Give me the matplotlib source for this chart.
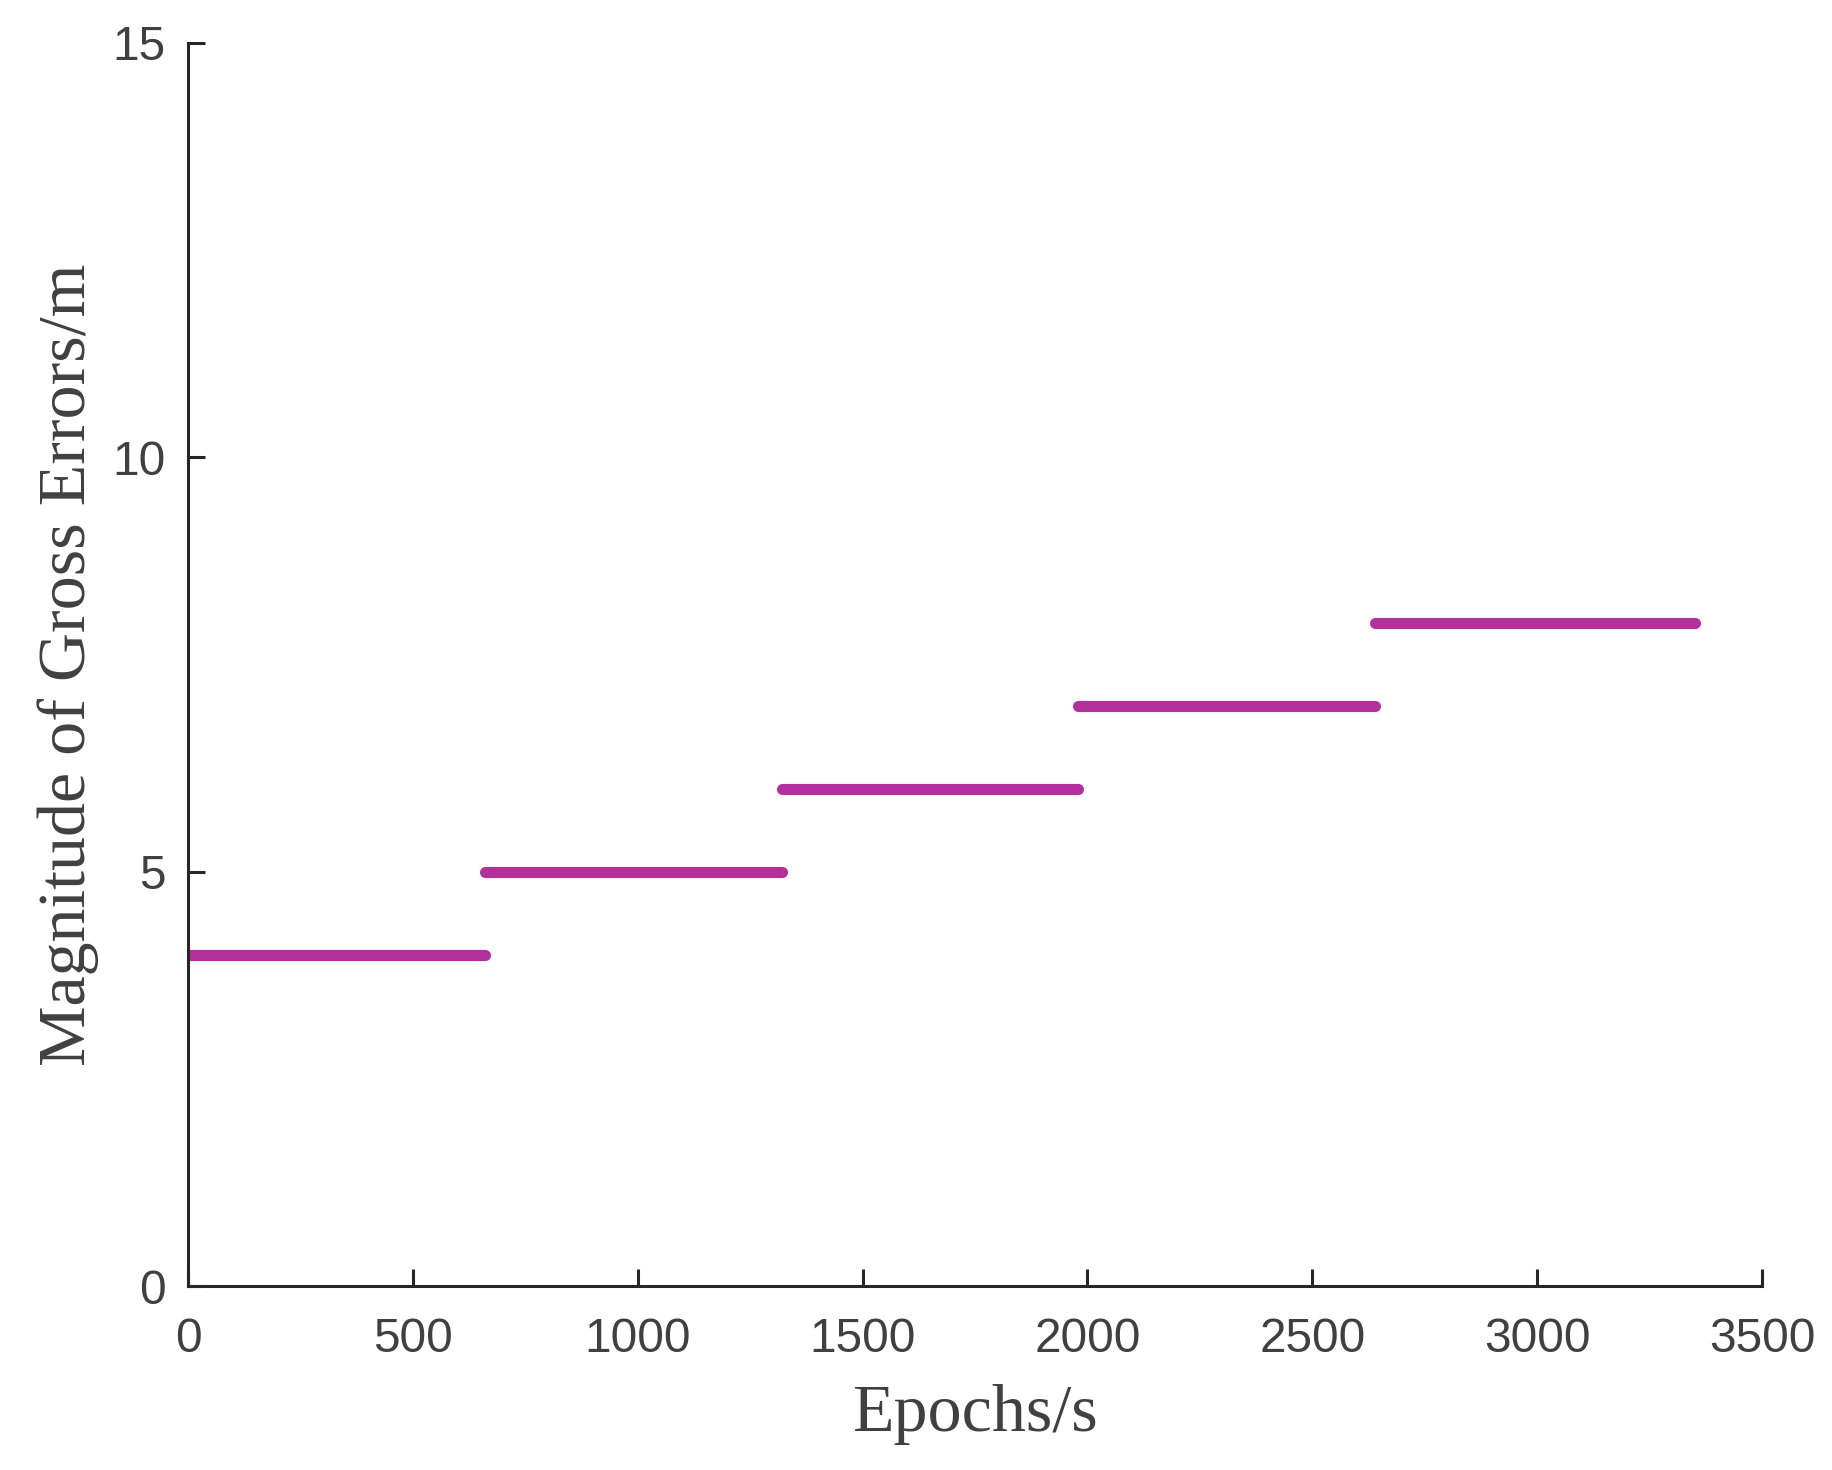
import numpy as np
import matplotlib
matplotlib.use("Agg")
import matplotlib.pyplot as plt

# Data: gross error magnitude per epoch segment
seg_start = [0, 660, 1320, 1980, 2640]
seg_end = [660, 1320, 1980, 2640, 3350]
seg_value = [4, 5, 6, 7, 8]

x_ticks = [0, 500, 1000, 1500, 2000, 2500, 3000, 3500]
y_ticks = [0, 5, 10, 15]

DPI = 200
fig = plt.figure(figsize=(1833 / DPI, 1470 / DPI), dpi=DPI)
ax = fig.add_axes([188 / 1833, 1 - 1286 / 1470, (1762 - 188) / 1833, (1286 - 43) / 1470])

color = "#B22F9C"
for s, e, v in zip(seg_start, seg_end, seg_value):
    ax.plot([s, e], [v, v], color=color, lw=4.0, solid_capstyle="round")

ax.set_xlim(0, 3500)
ax.set_ylim(0, 15)
ax.set_xticks(x_ticks)
ax.set_yticks(y_ticks)

for side in ["top", "right"]:
    ax.spines[side].set_visible(False)
for side in ["left", "bottom"]:
    ax.spines[side].set_linewidth(1.1)
    ax.spines[side].set_color("#262626")

ax.tick_params(direction="in", length=6, width=1.1, color="#262626",
               labelsize=17.2, labelcolor="#404040")
ax.tick_params(axis="x", pad=11)
ax.tick_params(axis="y", pad=8)
for lab in ax.get_xticklabels() + ax.get_yticklabels():
    lab.set_family("Liberation Sans")

ax.set_xlabel("Epochs/s", family="Liberation Serif", fontsize=24.5, color="#404040", labelpad=8)
ax.set_ylabel("Magnitude of Gross Errors/m", family="Liberation Serif", fontsize=24.5, color="#404040", labelpad=5)

fig.savefig("out.png", dpi=DPI)
